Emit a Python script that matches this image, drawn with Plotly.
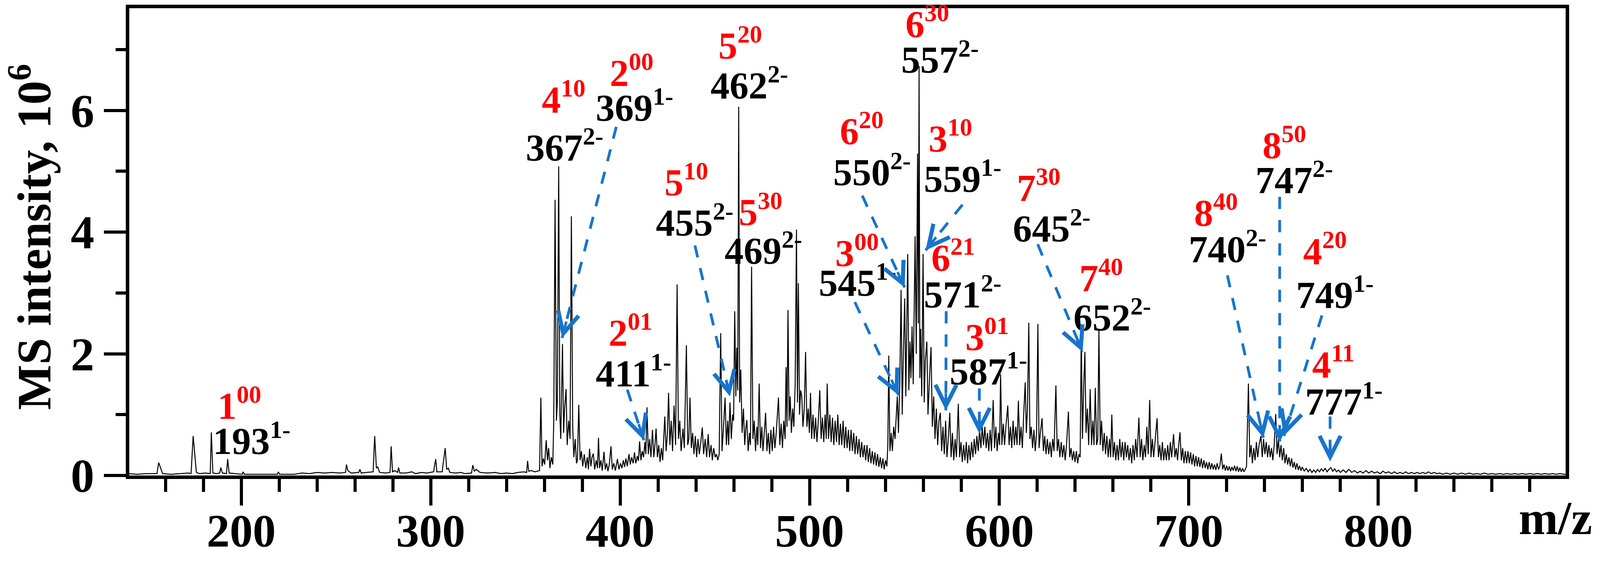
import math
import plotly.graph_objects as go

# Spectrum: (m/z, intensity in 10^6) pairs, region by region
low_mass = [
    (140, 0.03), (145, 0.02), (150, 0.03), (155.5, 0.03), (156.4, 0.21), (157.5, 0.12), (158.5, 0.03),
    (163, 0.02), (168, 0.03), (172, 0.04), (173.5, 0.03), (174.6, 0.65), (176.3, 0.05), (178, 0.03),
    (181, 0.04), (183.6, 0.03), (184.2, 0.71), (185, 0.04), (187, 0.03), (188.6, 0.04), (189.2, 0.13),
    (190, 0.04), (192.2, 0.03), (192.8, 0.27), (193.6, 0.04), (197, 0.03), (200.5, 0.02), (201, 0.06),
    (201.6, 0.02), (210, 0.02), (219, 0.02), (219.6, 0.06), (220.2, 0.02), (228, 0.02), (232, 0.04),
    (236, 0.03), (240, 0.05), (244, 0.04), (248, 0.05), (252, 0.04), (255, 0.05), (255.5, 0.18),
    (256.2, 0.08), (258, 0.04), (262, 0.05), (262.6, 0.10), (263.3, 0.04), (266, 0.05), (269.6, 0.06),
    (270.4, 0.65), (271.3, 0.12), (272, 0.14), (273, 0.05), (276, 0.04), (278.5, 0.05), (279.1, 0.48),
    (279.8, 0.06), (281, 0.08), (282.5, 0.05), (283, 0.13), (283.7, 0.04), (287, 0.04), (290, 0.06),
    (292, 0.03), (295, 0.05), (298, 0.04), (301.5, 0.06), (302.1, 0.18), (302.6, 0.27), (303.2, 0.06),
    (306, 0.06), (307.6, 0.45), (308.4, 0.10), (309.3, 0.12), (310, 0.05), (313, 0.04), (316, 0.05),
    (318, 0.03), (321.5, 0.04), (322.2, 0.17), (323, 0.07), (324, 0.10), (326, 0.05), (330, 0.04),
    (334, 0.05), (337, 0.03), (340, 0.04), (343, 0.03), (346, 0.05), (349, 0.06), (350.6, 0.05),
    (351.1, 0.24), (351.7, 0.07), (353, 0.08), (355, 0.06), (357.4, 0.08),
]
band_360_400 = [
    (358.1, 1.28), (358.7, 0.15), (359.4, 0.28), (360.1, 0.18), (360.9, 0.58), (361.6, 0.25), (362.2, 0.45),
    (362.9, 0.12), (363.6, 0.30), (364.4, 0.18), (364.9, 0.9), (365.6, 4.53), (366.3, 0.9), (366.8, 1.2),
    (367.5, 5.08), (368.1, 1.0), (368.6, 0.6), (369.5, 2.16), (370.1, 0.7), (370.6, 1.1), (371.4, 1.42),
    (372, 0.5), (372.8, 0.9), (373.5, 0.6), (374.2, 4.26), (374.9, 0.8), (375.5, 0.3), (376.2, 0.6),
    (376.9, 0.2), (377.4, 0.25), (378.1, 1.16), (378.8, 0.25), (379.5, 0.4), (380.2, 0.15), (381, 0.35),
    (381.8, 0.12), (382.6, 0.3), (383.2, 0.1), (383.8, 0.44), (384.5, 0.15), (385.1, 0.3), (385.8, 0.36),
    (386.5, 0.1), (387.3, 0.25), (388, 0.12), (388.5, 0.62), (389.1, 0.12), (389.8, 0.25), (390.5, 0.08),
    (391.4, 0.39), (392.1, 0.1), (392.8, 0.2), (393.5, 0.07), (394.2, 0.18), (395.1, 0.48), (395.8, 0.1),
    (396.6, 0.2), (397.4, 0.08), (398.5, 0.27), (399.3, 0.1), (400.1, 0.2),
]
band_400_452 = [
    (400.9, 0.12), (401.6, 0.25), (402.3, 0.14), (403, 0.28), (403.7, 0.15), (404.6, 0.35), (405.3, 0.18),
    (406, 0.3), (406.8, 0.2), (407.5, 0.38), (408.2, 0.2), (409, 0.32), (409.6, 0.24), (410.2, 0.56),
    (410.9, 0.25), (411.6, 0.4), (412.3, 0.3), (413, 0.55), (413.5, 0.35), (414.1, 1.12), (414.8, 0.35),
    (415.5, 0.6), (416.2, 0.3), (417, 0.75), (417.7, 0.3), (418.3, 0.5), (418.9, 0.77), (419.6, 0.3),
    (420.3, 0.5), (421, 0.22), (421.7, 0.45), (422.4, 0.25), (423.5, 0.97), (424.2, 0.4), (424.9, 0.7),
    (425.5, 1.36), (426.2, 0.5), (426.9, 0.9), (427.6, 0.4), (428.4, 1.15), (429.2, 0.5), (430, 3.14),
    (430.7, 0.6), (431.4, 0.9), (432.1, 0.4), (433.1, 0.77), (433.8, 0.45), (434.9, 2.14), (435.6, 0.5),
    (436.2, 0.6), (436.8, 1.28), (437.5, 0.45), (438.2, 0.7), (438.9, 0.35), (439.6, 0.65), (440.3, 0.3),
    (441, 0.6), (441.7, 0.35), (442.5, 0.55), (443.3, 0.79), (444, 0.35), (444.8, 0.6), (445.6, 0.3),
    (446.4, 0.68), (447.1, 0.3), (447.9, 0.5), (448.6, 0.25), (449.3, 0.45), (450.1, 0.3), (450.8, 0.35),
    (451.5, 0.25), (452.2, 0.35),
]
band_452_510 = [
    (453, 2.34), (453.7, 0.4), (454.5, 0.8), (455.3, 1.28), (456, 0.5), (456.7, 0.9), (457.2, 0.5),
    (457.9, 1.2), (458.6, 0.6), (459.3, 1.0), (459.8, 0.9), (460.4, 2.7), (461, 1.3), (461.5, 2.1),
    (462, 1.4), (462.5, 6.06), (463, 1.2), (463.6, 1.74), (464.3, 0.7), (465, 1.1), (465.7, 0.5),
    (466.3, 0.8), (466.8, 0.91), (467.5, 0.4), (468.2, 0.7), (468.7, 0.5), (469.3, 3.43), (470, 0.6),
    (470.7, 0.9), (471.4, 0.4), (472.1, 0.8), (472.6, 0.5), (473.3, 1.51), (474, 0.45), (474.7, 0.8),
    (475.3, 0.4), (476, 0.7), (476.7, 1.03), (477.4, 0.4), (478.1, 0.7), (478.8, 0.35), (479.5, 0.75),
    (480.2, 0.4), (480.9, 0.8), (481.6, 0.45), (482.3, 0.7), (483.5, 1.28), (484.2, 0.5), (484.9, 0.85),
    (485.6, 0.45), (486.3, 0.9), (487, 0.6), (487.5, 1.78), (488, 0.8), (488.5, 2.72), (489.1, 0.9),
    (489.7, 1.3), (490.3, 0.7), (491, 1.1), (491.6, 0.8), (492.3, 1.5), (493, 4.04), (493.5, 1.2),
    (494, 3.16), (494.6, 1.0), (495.2, 1.4), (495.8, 1.3), (496.4, 0.8), (497.1, 1.1), (497.8, 2.03),
    (498.5, 0.8), (499.2, 1.1), (499.8, 0.7), (500.4, 1.36), (501, 0.6), (501.7, 1.0), (502.4, 0.6),
    (503.1, 0.95), (503.8, 0.55), (504.5, 0.9), (505.3, 1.4), (506, 0.6), (506.7, 0.95), (507.4, 0.55),
    (508.1, 1.0), (508.7, 0.6), (509.2, 1.51), (509.9, 0.6),
]
band_510_547 = [
    (510.6, 1.0), (511.3, 0.55), (512, 0.95), (512.7, 0.5), (513.4, 0.9), (514.1, 0.55), (514.8, 1.0),
    (515.5, 0.5), (516.2, 0.85), (516.9, 0.5), (517.6, 0.9), (518.3, 0.45), (519, 0.8), (519.7, 0.45),
    (520.4, 0.75), (521.1, 0.4), (521.8, 0.75), (522.5, 0.4), (523.2, 0.7), (523.9, 0.35), (524.6, 0.65),
    (525.3, 0.35), (526, 0.6), (526.7, 0.3), (527.4, 0.55), (528.1, 0.3), (528.8, 0.5), (529.5, 0.25),
    (530.2, 0.5), (530.9, 0.22), (531.6, 0.45), (532.3, 0.2), (533, 0.4), (533.7, 0.18), (534.4, 0.38),
    (535.1, 0.16), (535.8, 0.35), (536.5, 0.14), (537.2, 0.3), (537.9, 0.12), (538.6, 0.28), (539.3, 0.1),
    (540, 0.25), (540.7, 0.15), (541.2, 0.5), (541.7, 1.97), (542.3, 0.4), (543, 0.7), (543.6, 0.4),
    (544.3, 0.8), (545, 0.6), (545.6, 1.0), (546.2, 1.3), (546.8, 0.7),
]
cluster_557 = [
    (547.5, 1.5), (548.2, 3.05), (548.8, 1.0), (549.4, 2.0), (550.1, 2.91), (550.7, 1.3), (551.2, 2.4),
    (551.7, 3.64), (552.3, 1.4), (552.9, 2.2), (553.4, 1.6), (554, 2.45), (554.6, 1.5), (555.1, 2.8),
    (555.6, 3.93), (556.2, 2.0), (556.9, 5.29), (557.3, 2.5), (557.7, 6.73), (558.1, 1.6), (558.5, 2.41),
    (559.1, 1.3), (559.8, 3.64), (560.4, 1.2), (561, 1.9), (561.8, 2.2), (562.4, 1.0), (563.2, 1.6),
    (564, 2.11), (564.7, 0.8), (565.4, 1.3), (566.1, 0.6), (566.8, 1.1), (567.5, 0.5), (568.2, 0.9),
    (568.9, 1.03), (569.6, 0.4), (570.3, 0.8), (571, 0.35), (571.7, 0.9), (572.4, 0.3), (573.1, 0.6),
    (573.9, 1.03), (574.6, 0.3), (575.3, 0.7),
]
band_575_643 = [
    (576, 0.25), (576.7, 0.6), (577.4, 0.3), (578.4, 1.18), (579.1, 0.3), (579.8, 0.55), (580.5, 0.22),
    (581.2, 0.5), (581.9, 0.25), (582.6, 0.55), (583.3, 0.2), (584, 0.5), (584.7, 0.25), (585.4, 0.55),
    (586.1, 0.3), (586.8, 0.6), (587.5, 0.35), (588.2, 0.65), (588.9, 0.4), (589.6, 0.75), (590.3, 0.45),
    (591, 0.8), (591.7, 0.5), (592.4, 0.8), (593.1, 0.45), (593.8, 0.7), (594.5, 0.4), (595.2, 0.75),
    (595.9, 0.4), (596.8, 1.24), (597.5, 0.45), (598.2, 0.8), (598.9, 0.4), (599.6, 0.7), (600.2, 0.5),
    (600.7, 1.66), (601.4, 0.5), (602.1, 0.85), (602.8, 0.5), (603.5, 0.8), (604.5, 1.15), (605.2, 0.5),
    (605.9, 0.8), (606.6, 0.45), (607.3, 0.9), (608, 0.5), (608.7, 0.8), (609.4, 0.5), (610.1, 1.23),
    (610.8, 0.5), (611.5, 0.8), (612.2, 0.45), (612.9, 1.0), (613.7, 1.53), (614.3, 0.7), (614.9, 1.1),
    (615.6, 2.51), (616.2, 0.6), (616.9, 0.8), (617.6, 0.45), (618.3, 0.75), (619, 0.4), (619.7, 0.7),
    (620.4, 2.49), (621, 0.45), (621.7, 0.7), (622.6, 0.94), (623.3, 0.4), (624, 0.65), (624.7, 0.35),
    (625.4, 0.6), (626.1, 0.35), (626.8, 0.55), (627.5, 0.3), (628.2, 0.6), (628.9, 0.4), (629.9, 1.48),
    (630.6, 0.4), (631.3, 0.6), (632, 0.3), (632.7, 0.55), (633.4, 0.3), (634.1, 0.5), (634.8, 0.25),
    (635.5, 0.5), (636.5, 1.05), (637.2, 0.3), (637.9, 0.45), (638.6, 0.25), (639.3, 0.4), (640, 0.22),
    (640.7, 0.4), (641.4, 0.2), (642.1, 0.35), (642.7, 0.3),
]
band_643_700 = [
    (643.3, 2.36), (643.9, 0.6), (644.6, 1.5), (645.2, 2.03), (645.8, 0.7), (646.5, 1.1), (647.2, 0.5),
    (648, 1.42), (648.7, 0.5), (649.4, 0.9), (650, 0.5), (650.7, 1.44), (651.4, 0.5), (652, 0.6),
    (652.6, 2.4), (653.3, 0.5), (654, 0.9), (654.7, 0.4), (655.4, 0.7), (656.1, 0.35), (656.8, 0.65),
    (657.5, 0.3), (658.2, 0.6), (658.8, 0.3), (659.4, 1.0), (660.1, 0.3), (660.8, 0.55), (661.5, 0.25),
    (662.2, 0.5), (662.9, 0.25), (663.6, 0.6), (664.3, 0.3), (665, 0.55), (665.7, 0.25), (666.4, 0.55),
    (667.1, 0.3), (667.8, 0.5), (668.5, 0.25), (669.2, 0.45), (669.9, 0.2), (670.6, 0.5), (671.3, 0.25),
    (672, 0.6), (672.7, 0.3), (673.7, 0.95), (674.4, 0.3), (675.1, 0.6), (675.8, 0.25), (676.5, 0.5),
    (677.2, 0.3), (677.9, 0.8), (678.6, 0.35), (679.4, 1.24), (680.1, 0.3), (680.8, 0.6), (681.5, 0.3),
    (682.2, 0.55), (683.3, 0.94), (684, 0.3), (684.7, 0.5), (685.4, 0.25), (686.1, 0.55), (686.8, 0.25),
    (687.5, 0.45), (688.2, 0.25), (688.9, 0.5), (689.6, 0.25), (690.3, 0.55), (691, 0.3), (692, 0.68),
    (692.7, 0.3), (693.4, 0.45), (694.1, 0.25), (694.7, 0.5), (695.4, 0.71), (696.1, 0.25), (696.8, 0.45),
    (697.5, 0.2), (698.2, 0.4), (698.9, 0.2), (699.6, 0.4),
]
band_700_900 = [
    (700.3, 0.2), (701, 0.38), (701.7, 0.18), (702.4, 0.35), (703.1, 0.15), (703.8, 0.32), (704.5, 0.15),
    (705.2, 0.3), (705.9, 0.14), (706.6, 0.28), (707.3, 0.12), (708, 0.25), (708.7, 0.12), (709.4, 0.22),
    (710.1, 0.1), (710.8, 0.22), (711.5, 0.1), (712.2, 0.2), (712.9, 0.1), (713.6, 0.18), (714.3, 0.09),
    (715, 0.2), (715.7, 0.1), (716.4, 0.15), (717.2, 0.36), (717.9, 0.1), (718.6, 0.18), (719.3, 0.08),
    (720, 0.16), (720.7, 0.08), (721.4, 0.15), (722.1, 0.07), (722.8, 0.14), (723.5, 0.08), (724.2, 0.16),
    (724.9, 0.07), (725.6, 0.15), (726.3, 0.06), (727, 0.13), (727.7, 0.06), (728.4, 0.12), (729.1, 0.06),
    (729.8, 0.1), (730.5, 0.15), (731.5, 1.51), (732.2, 0.3), (732.9, 0.5), (733.6, 0.2), (734.3, 0.45),
    (735, 0.25), (735.7, 0.55), (736.4, 0.3), (737.1, 0.5), (738.1, 0.65), (738.8, 0.3), (739.5, 0.6),
    (740.2, 0.35), (740.9, 0.55), (741.6, 0.3), (742.3, 0.5), (743, 0.3), (743.7, 0.45), (744.4, 0.25),
    (745.1, 0.5), (745.9, 1.01), (746.6, 0.35), (747.3, 0.6), (748, 0.3), (748.7, 0.5), (749.4, 0.25),
    (750.1, 0.45), (750.8, 0.2), (751.5, 0.35), (752.2, 0.18), (752.9, 0.3), (753.6, 0.15), (754.3, 0.28),
    (755, 0.13), (755.7, 0.22), (756.4, 0.1), (757.1, 0.2), (757.8, 0.09), (758.5, 0.16), (759.2, 0.08),
    (759.9, 0.14), (761, 0.07), (762, 0.12), (763, 0.06), (764, 0.1), (765, 0.05), (766, 0.09),
    (767, 0.05), (768, 0.1), (769, 0.06), (770, 0.11), (771, 0.07), (772, 0.12), (773, 0.06), (774, 0.1),
    (775, 0.13), (776, 0.07), (777, 0.11), (778, 0.06), (779, 0.09), (780, 0.05), (781.5, 0.09),
    (783, 0.05), (784.5, 0.1), (786, 0.05), (787.5, 0.08), (789, 0.04), (790.5, 0.07), (792, 0.04),
    (793.5, 0.08), (795, 0.04), (796.5, 0.07), (798, 0.04), (799.5, 0.06), (801, 0.03), (802.5, 0.07),
    (804, 0.04), (805.5, 0.06), (807, 0.03), (808.5, 0.06), (810, 0.03), (811.5, 0.05), (813, 0.03),
    (814.5, 0.06), (816, 0.03), (817.5, 0.05), (819, 0.03), (820.5, 0.05), (822, 0.03), (823.5, 0.05),
    (825, 0.03), (826.5, 0.06), (828, 0.03), (829.5, 0.05), (831, 0.03), (832.5, 0.04), (834, 0.02),
    (836, 0.04), (838, 0.02), (840, 0.04), (842, 0.02), (844, 0.04), (846, 0.02), (848, 0.04), (850, 0.02),
    (852, 0.03), (854, 0.02), (856, 0.04), (858, 0.02), (860, 0.03), (862, 0.02), (864, 0.03), (866, 0.02),
    (868, 0.03), (870, 0.02), (872, 0.03), (874, 0.02), (876, 0.03), (878, 0.02), (880, 0.03), (882, 0.02),
    (884, 0.03), (886, 0.02), (888, 0.03), (890, 0.02), (892, 0.03), (894, 0.02), (896, 0.03), (898, 0.02),
    (900, 0.02),
]

# Ion assignments (red code with superscript, black m/z with charge)
ion_code = ["1", "4", "2", "2", "5", "5", "5", "3", "6", "6", "3", "6", "3", "7", "7", "8", "8", "4", "4"]
ion_code_sup = ["00", "10", "00", "01", "10", "20", "30", "00", "20", "30", "10", "21", "01", "30", "40",
                "40", "50", "20", "11"]
ion_mz = ["193", "367", "369", "411", "455", "462", "469", "545", "550", "557", "559", "571", "587", "645",
          "652", "740", "747", "749", "777"]
ion_charge = ["1-", "2-", "1-", "1-", "2-", "2-", "2-", "1-", "2-", "2-", "1-", "2-", "1-", "2-", "2-",
              "2-", "2-", "1-", "1-"]
x_tick_labels = [200, 300, 400, 500, 600, 700, 800]

# Layout: where each label sits (left edge m/z, digit centre intensity) and its arrow (tail -> head)
red_pos = [(187.0, 1.15), (358.1, 6.18), (394.1, 6.62), (393.5, 2.35), (423.0, 4.82), (451.3, 7.07),
           (462.1, 4.33), (513.0, 3.66), (515.5, 5.66), (550.0, 7.42), (562.2, 5.54), (563.7, 3.58),
           (581.7, 2.28), (608.8, 4.73), (641.8, 3.25), (702.5, 4.32), (738.6, 5.43), (759.9, 3.69),
           (764.6, 1.83)]
black_pos = [(184.6, 0.57), (349.8, 5.39), (386.6, 6.05), (386.6, 1.68), (418.3, 4.16), (447.2, 6.41),
             (454.7, 3.70), (504.4, 3.17), (512.0, 4.99), (547.8, 6.84), (559.8, 4.88), (559.8, 2.98),
             (573.3, 1.71), (606.7, 4.06), (638.8, 2.60), (699.6, 3.72), (734.9, 4.86), (756.2, 2.97),
             (760.9, 1.22)]
arrows = [
    ((397.9, 5.73), (369.3, 2.26)),
    ((403.7, 1.41), (412.5, 0.58)),
    ((439.4, 3.78), (457.9, 1.30)),
    ((523.8, 2.85), (546.9, 1.32)),
    ((527.7, 4.60), (550.1, 3.09)),
    ((580.6, 4.45), (561.1, 3.70)),
    ((572.0, 2.70), (571.8, 1.07)),
    ((589.5, 1.43), (589.5, 0.69)),
    ((620.3, 3.80), (644.0, 2.03)),
    ((720.4, 3.29), (739.4, 0.62)),
    ((748.0, 4.58), (748.0, 0.55)),
    ((770.3, 2.63), (750.2, 0.65)),
    ((774.6, 0.97), (774.6, 0.23)),
]

FONT = "Liberation Serif"
BLUE = "#1874cd"
RED = "#ff0000"
S = 0.9446  # page px per reference px (the page is photographed slightly enlarged)


def px(v):
    return round(v * S, 1)


W, H = round(4317 * S), round(1482 * S)
MARGIN = dict(l=323, r=78, t=13, b=191)
X_RANGE = [140.9, 898.9]
Y_RANGE = [0, 7.68]
PX_PER_X = (W - MARGIN["l"] - MARGIN["r"]) / (X_RANGE[1] - X_RANGE[0])
PX_PER_Y = (H - MARGIN["t"] - MARGIN["b"]) / (Y_RANGE[1] - Y_RANGE[0])
LABEL_SIZE = px(103)

spectrum = (low_mass + band_360_400 + band_400_452 + band_452_510 + band_510_547 + cluster_557
            + band_575_643 + band_643_700 + band_700_900)
mz = [p[0] for p in spectrum]
intensity = [p[1] for p in spectrum]

fig = go.Figure()
fig.add_trace(go.Scatter(x=mz, y=intensity, mode="lines",
                         line=dict(color="black", width=px(2.6)), hoverinfo="skip", showlegend=False))

annotations = []


def add_label(x, y, main, sup, color):
    # one text: digits plus a slightly shrunk superscript; the raised sup makes the box taller,
    # so nudge it up a little to keep the digits centred on y
    annotations.append(dict(
        x=x, y=y, xref="x", yref="y", xanchor="left", yanchor="middle", showarrow=False,
        yshift=0.044 * LABEL_SIZE,
        text=f"<b>{main}<sup><span style='font-size:93%'>{sup}</span></sup></b>",
        font=dict(family=FONT, size=LABEL_SIZE, color=color),
    ))


for i in range(len(ion_mz)):
    add_label(*red_pos[i], ion_code[i], ion_code_sup[i], RED)
    add_label(*black_pos[i], ion_mz[i], ion_charge[i], "black")

shapes = []
for (tx, ty), (hx, hy) in arrows:
    # dashed shaft
    shapes.append(dict(type="line", xref="x", yref="y", x0=tx, y0=ty, x1=hx, y1=hy,
                       line=dict(color=BLUE, width=px(7.5), dash=f"{px(33)}px,{px(30)}px")))
    # open chevron head on a short solid stub
    length = math.hypot((tx - hx) * PX_PER_X, (ty - hy) * PX_PER_Y)
    f = min(0.9, 45 / length)
    annotations.append(dict(
        x=hx, y=hy, xref="x", yref="y", ax=hx + f * (tx - hx), ay=hy + f * (ty - hy),
        axref="x", ayref="y", text="", showarrow=True, arrowhead=5, arrowsize=1.6,
        arrowwidth=px(7), arrowcolor=BLUE, standoff=0,
    ))

# x tick labels, centred on their ticks just below the tick marks
for v in x_tick_labels:
    annotations.append(dict(
        x=v, y=-0.1188, xref="x", yref="paper", xanchor="center", yanchor="middle", showarrow=False,
        text=f"<b>{v}</b>", font=dict(family=FONT, size=px(125), color="black"),
    ))

annotations.append(dict(
    x=1.019, y=-0.091, xref="paper", yref="paper", xanchor="right", yanchor="middle", showarrow=False,
    text="<b>m/z</b>", font=dict(family=FONT, size=px(128), color="black"),
))
annotations.append(dict(
    x=-0.0687, y=0.511, xref="paper", yref="paper", xanchor="center", yanchor="middle",
    showarrow=False, textangle=-90,
    text="<b>MS intensity, 10<sup>6</sup></b>", font=dict(family=FONT, size=px(130), color="black"),
))

fig.update_layout(
    width=W, height=H,
    template="none",
    margin=dict(**MARGIN, autoexpand=False),
    plot_bgcolor="white", paper_bgcolor="white",
    annotations=annotations, shapes=shapes,
    xaxis=dict(
        range=X_RANGE, dtick=100, tick0=0, automargin=False, showticklabels=False,
        showline=True, linecolor="black", linewidth=px(9), mirror=True,
        ticks="outside", ticklen=px(72), tickwidth=px(8), tickcolor="black",
        minor=dict(dtick=20, tick0=0, ticks="outside", ticklen=px(35), tickwidth=px(8), tickcolor="black"),
        showgrid=False, zeroline=False,
    ),
    yaxis=dict(
        range=Y_RANGE, dtick=2, tick0=0, automargin=False,
        showline=True, linecolor="black", linewidth=px(9), mirror=True,
        ticks="outside", ticklen=px(60), tickwidth=px(8), tickcolor="black",
        minor=dict(dtick=1, tick0=0, ticks="outside", ticklen=px(28), tickwidth=px(8), tickcolor="black"),
        showgrid=False, zeroline=False,
        tickfont=dict(family=FONT, size=px(128), color="black", weight="bold"),
    ),
)

fig.write_html("out.html")
